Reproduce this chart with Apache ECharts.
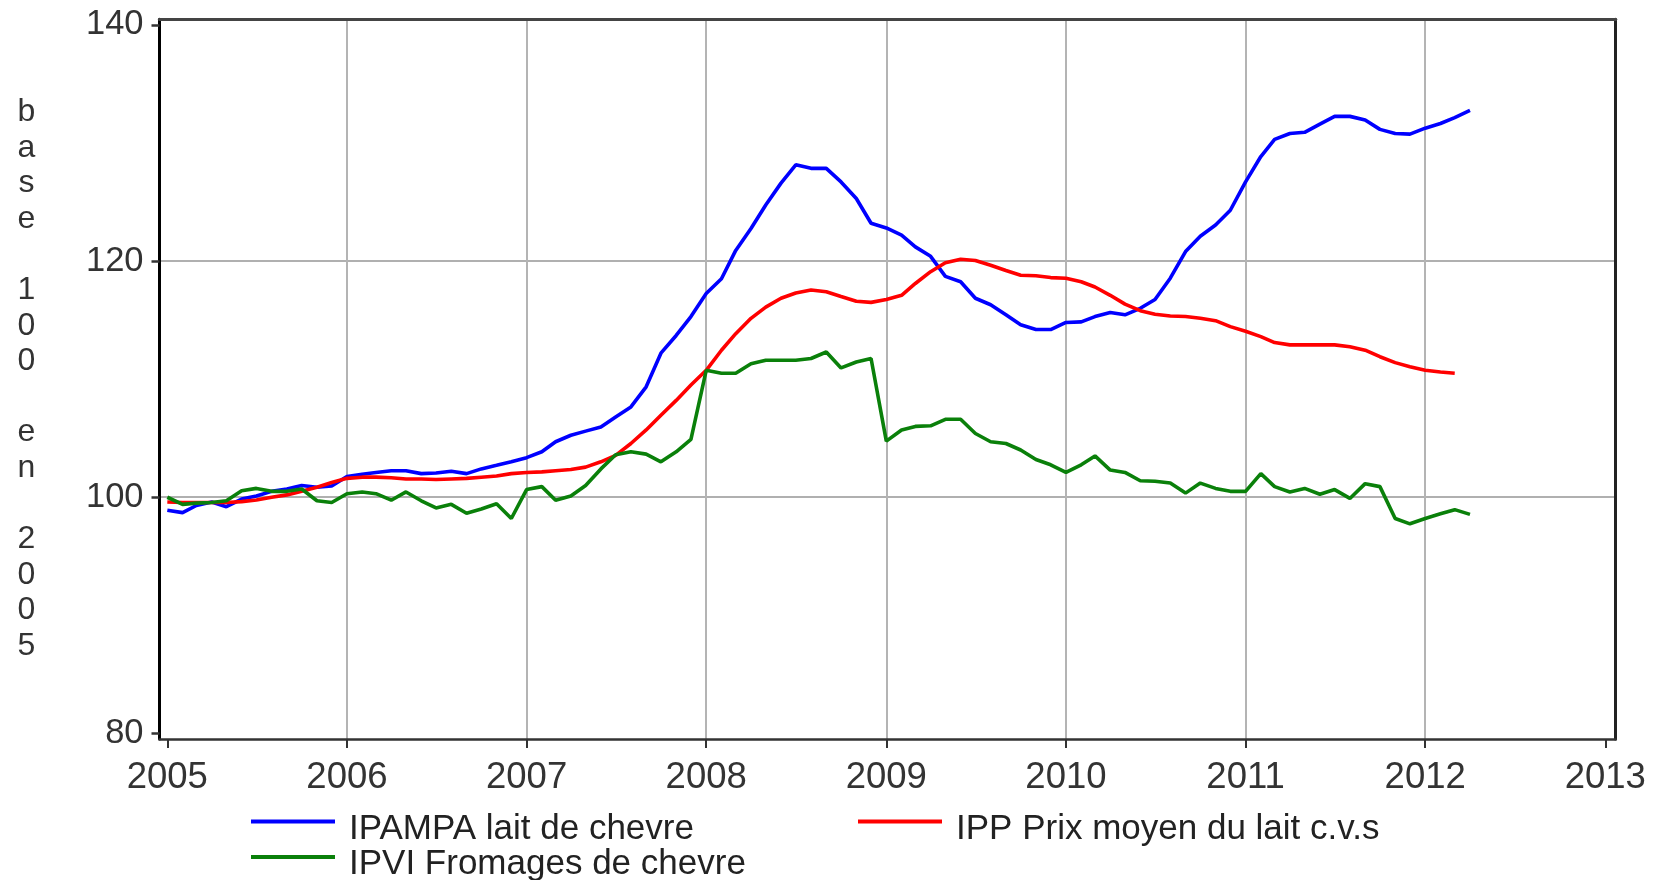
<!DOCTYPE html>
<html><head><meta charset="utf-8">
<script src="https://cdn.jsdelivr.net/npm/echarts@6/dist/echarts.min.js"></script>
<style>html,body{margin:0;padding:0;background:#fff}#c{width:1654px;height:880px}</style>
</head><body><div id="c"></div>
<script>
// ---- data (monthly, first point = January 2005) ----
const startYear = 2005;
const seriesNames = ['IPAMPA lait de chevre', 'IPP Prix moyen du lait c.v.s', 'IPVI Fromages de chevre'];
const seriesColors = ['#0000ff', '#ff0000', '#0a800a'];
const ipampa = [98.9, 98.7, 99.3, 99.6, 99.2, 99.85, 100.1, 100.5, 100.7, 101.0, 100.85, 100.95,
 101.75, 101.95, 102.1, 102.25, 102.25, 102.0, 102.05, 102.2, 102.0, 102.4, 102.7, 103.0,
 103.35, 103.85, 104.7, 105.25, 105.6, 105.95, 106.8, 107.65, 109.35, 112.2, 113.7, 115.3,
 117.25, 118.5, 120.9, 122.75, 124.75, 126.6, 128.15, 127.85, 127.85, 126.7, 125.3, 123.2,
 122.8, 122.2, 121.2, 120.4, 118.7, 118.25, 116.85, 116.3, 115.45, 114.6, 114.2, 114.2,
 114.8, 114.85, 115.3, 115.65, 115.45, 116.0, 116.75, 118.55, 120.8, 122.1, 123.05, 124.3,
 126.7, 128.85, 130.3, 130.8, 130.9, 131.6, 132.25, 132.25, 131.95, 131.15, 130.8, 130.75,
 131.25, 131.65, 132.15, 132.75];
const ipp = [99.6, 99.55, 99.55, 99.55, 99.55, 99.63, 99.77, 100.0, 100.2, 100.5, 100.85, 101.25,
 101.6, 101.7, 101.7, 101.65, 101.55, 101.55, 101.5, 101.55, 101.6, 101.7, 101.8, 102.0,
 102.1, 102.15, 102.25, 102.35, 102.55, 103.0, 103.55, 104.55, 105.7, 106.95, 108.2, 109.5,
 110.75, 112.45, 113.85, 115.15, 116.1, 116.85, 117.3, 117.55, 117.4, 117.0, 116.6, 116.5,
 116.75, 117.1, 118.1, 119.1, 119.85, 120.15, 120.05, 119.65, 119.2, 118.8, 118.75, 118.6,
 118.55, 118.25, 117.8, 117.1, 116.35, 115.8, 115.5, 115.35, 115.3, 115.15, 114.95, 114.45,
 114.05, 113.6, 113.1, 112.9, 112.9, 112.9, 112.9, 112.75, 112.45, 111.9, 111.4, 111.05,
 110.75, 110.6, 110.5];
const ipvi = [100.0, 99.4, 99.5, 99.55, 99.7, 100.55, 100.75, 100.5, 100.5, 100.7, 99.7, 99.55,
 100.3, 100.45, 100.3, 99.75, 100.45, 99.7, 99.1, 99.4, 98.65, 99.0, 99.45, 98.2,
 100.65, 100.9, 99.75, 100.1, 101.0, 102.4, 103.6, 103.85, 103.65, 103.0, 103.85, 104.9,
 110.75, 110.5, 110.5, 111.3, 111.6, 111.6, 111.6, 111.75, 112.3, 110.95, 111.45, 111.75,
 104.75, 105.7, 106.0, 106.05, 106.6, 106.6, 105.4, 104.7, 104.55, 104.0, 103.2, 102.75,
 102.1, 102.75, 103.5, 102.3, 102.1, 101.4, 101.35, 101.2, 100.35, 101.2, 100.75, 100.5,
 100.5, 102.0, 100.9, 100.45, 100.75, 100.25, 100.65, 99.9, 101.15, 100.9, 98.2, 97.75,
 98.2, 98.6, 98.95, 98.55];
const yearTicks = [2005, 2006, 2007, 2008, 2009, 2010, 2011, 2012, 2013];
const yearGrid = [2006, 2007, 2008, 2009, 2010, 2011, 2012];
const yTicks = [80, 100, 120, 140];
const yGrid = [100, 120];
const yTitle = 'base 100 en 2005';

// ---- helpers: x axis counted in days since 1 Jan 2005 ----
const DAY = 864e5;
const origin = Date.UTC(startYear, 0, 1);
const monthDay = i => (Date.UTC(startYear + Math.floor(i / 12), i % 12, 1) - origin) / DAY;
const yearDay = y => (Date.UTC(y, 0, 1) - origin) / DAY;
const toPairs = arr => arr.map((v, i) => [monthDay(i), v]);
const dayToYear = d => { let best = yearTicks[0]; yearTicks.forEach(y => { if (Math.abs(yearDay(y) - d) < 1) best = y; }); return String(best); };
const xMin = -15.9, xMax = xMin + 2959;
const yMin = 79.53, yMax = 140.47;
const FONT = 'Liberation Sans';

const chart = echarts.init(document.getElementById('c'), null, {renderer: 'canvas'});
const legendCommon = {
  orient: 'horizontal', padding: 0, icon: 'rect', itemWidth: 84, itemHeight: 4,
  selectedMode: false,
  formatter: '{t|{name}}',
  textStyle: {fontFamily: FONT, fontSize: 35, color: '#222',
    rich: {t: {fontFamily: FONT, fontSize: 35, color: '#222', lineHeight: 34, padding: [15, 0, 0, 9]}}}
};
chart.setOption({
  animation: false,
  backgroundColor: '#fff',
  grid: {left: 159.5, right: 38.3, top: 19.3, bottom: 141, containLabel: false},
  legend: [
    Object.assign({data: [seriesNames[0]], left: 251, top: 796.5}, legendCommon),
    Object.assign({data: [seriesNames[1]], left: 858, top: 796.5}, legendCommon),
    Object.assign({data: [seriesNames[2]], left: 251, top: 832}, legendCommon)
  ],
  xAxis: [{
    type: 'value', position: 'bottom', min: xMin, max: xMax,
    axisLine: {show: true, onZero: false, lineStyle: {color: '#333', width: 2.5}},
    axisTick: {show: true, customValues: yearTicks.map(yearDay), length: 9, lineStyle: {color: '#333', width: 2}},
    axisLabel: {show: true, customValues: yearTicks.map(yearDay), formatter: v => dayToYear(v),
      fontFamily: FONT, fontSize: 36.5, color: '#333', margin: 20, hideOverlap: false},
    splitLine: {show: false}
  }, {
    type: 'value', position: 'top', min: xMin, max: xMax,
    axisLine: {show: true, onZero: false, lineStyle: {color: '#444', width: 3}},
    axisTick: {show: false, customValues: yearGrid.map(yearDay)},
    axisLabel: {show: false},
    splitLine: {show: true, lineStyle: {color: '#b4b4b4', width: 2}}
  }],
  yAxis: [{
    type: 'value', position: 'left', min: yMin, max: yMax,
    name: yTitle.split('').join('\n'), nameLocation: 'middle', nameRotate: 0, nameGap: 133,
    nameTextStyle: {fontFamily: FONT, fontSize: 32, color: '#333', align: 'center', verticalAlign: 'middle', lineHeight: 35.6},
    axisLine: {show: true, onZero: false, lineStyle: {color: '#000', width: 3}},
    axisTick: {show: true, customValues: yTicks, length: 8, lineStyle: {color: '#333', width: 2.5}},
    axisLabel: {show: true, customValues: yTicks, fontFamily: FONT, fontSize: 34.5, color: '#333', margin: 16},
    splitLine: {show: false}
  }, {
    type: 'value', position: 'right', min: yMin, max: yMax,
    axisLine: {show: true, onZero: false, lineStyle: {color: '#222', width: 3}},
    axisTick: {show: false, customValues: yGrid},
    axisLabel: {show: false},
    splitLine: {show: true, lineStyle: {color: '#b0b0b0', width: 2}}
  }],
  series: [ipampa, ipp, ipvi].map((arr, k) => ({
    name: seriesNames[k], type: 'line', xAxisIndex: 0, yAxisIndex: 0,
    data: toPairs(arr), showSymbol: false, symbol: 'none',
    color: seriesColors[k],
    lineStyle: {color: seriesColors[k], width: 3.6},
    emphasis: {disabled: true}
  }))
});
</script></body></html>
